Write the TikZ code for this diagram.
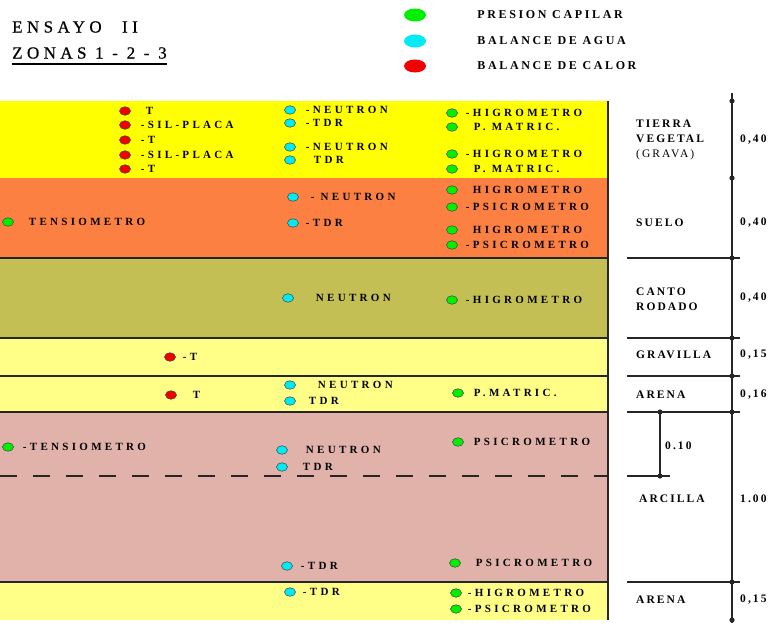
\documentclass[tikz,border=0pt]{standalone}
\usepackage{fontspec}
\setmainfont{Liberation Serif}
\newfontfamily\lblfont{Liberation Serif}[LetterSpace=30]
\newfontfamily\colfont{Liberation Serif}[LetterSpace=18]
\newfontfamily\legfont{Liberation Serif}[LetterSpace=22]
\newfontfamily\ttlfont{Liberation Serif}[LetterSpace=26, FakeBold=0.6]
\usetikzlibrary{shapes.geometric, positioning}

\definecolor{tierra}{RGB}{255,255,0}
\definecolor{suelo}{RGB}{252,128,66}
\definecolor{canto}{RGB}{196,191,84}
\definecolor{arena}{RGB}{255,255,136}
\definecolor{arcilla}{RGB}{224,178,170}
\definecolor{mkgreen}{RGB}{0,240,0}
\definecolor{mkcyan}{RGB}{0,235,245}
\definecolor{mkred}{RGB}{240,0,0}

\begin{document}
\begin{tikzpicture}[
    x=1pt, y=-1pt,
    sep/.style={line width=1.2pt, color=black!85},
    scaleline/.style={line width=1.1pt, color=black!85},
    mk/.style={ellipse, draw=black!75, line width=0.5pt, fill=#1,
               minimum width=11pt, minimum height=8.5pt, inner sep=0pt},
    gdot/.style={mk=mkgreen},
    cdot/.style={mk=mkcyan},
    rdot/.style={mk=mkred},
    lab/.style={font=\lblfont\bfseries\fontsize{11}{11}\selectfont,
                inner sep=0pt, xshift=10pt},
    colname/.style={font=\colfont\bfseries\fontsize{11.5}{15}\selectfont,
                    anchor=west, align=left, inner sep=0pt},
    legdot/.style={ellipse, fill=#1, minimum width=22pt, minimum height=13pt,
                   inner sep=0pt},
    legtext/.style={font=\legfont\bfseries\fontsize{12}{12}\selectfont,
                    inner sep=0pt, xshift=51pt},
    ttl/.style={font=\ttlfont\fontsize{17}{17}\selectfont, anchor=west, inner sep=0pt},
  ]
  \useasboundingbox (0,0) rectangle (775,626);

  % --- title and legend ---
  \node[ttl] (t1) at (12,27) {ENSAYO\hspace{1.2em}II};
  \node[ttl] (t2) at (12,53) {ZONAS 1 - 2 - 3};
  \draw[line width=1.2pt] ([yshift=-5pt]t2.south west) -- ([yshift=-5pt]t2.south east);

  \node[legdot=mkgreen, label={[legtext]right:PRESION CAPILAR}] (lg1) at (415,15) {};
  \node[legdot=mkcyan, label={[legtext]right:BALANCE DE AGUA}] (lg2) at (415,41) {};
  \node[legdot=mkred, label={[legtext]right:BALANCE DE CALOR}] (lg3) at (415,66) {};

  % --- soil layers ---
  \fill[tierra] (0,101) rectangle (608,178);
  \fill[suelo] (0,178) rectangle (608,258);
  \fill[canto] (0,258) rectangle (608,338);
  \fill[arena] (0,338) rectangle (608,412);
  \fill[arcilla] (0,412) rectangle (608,582);
  \fill[arena] (0,582) rectangle (608,620);
  \foreach \y in {258,338,376,412,582}
    \draw[sep] (0,\y) -- (608,\y);
  \draw[sep] (608,101) -- (608,620);
  \draw[sep, dash pattern=on 17pt off 16pt] (0,476) -- (608,476);

  % --- tierra vegetal ---
  \node[rdot, label={[lab, xshift=5pt]right:T}] (r1) at (125,111) {};
  \node[rdot, label={[lab]right:-SIL-PLACA}] (r2) at (125,125) {};
  \node[rdot, label={[lab]right:-T}] (r3) at (125,140) {};
  \node[rdot, label={[lab]right:-SIL-PLACA}] (r4) at (125,155) {};
  \node[rdot, label={[lab]right:-T}] (r5) at (125,169) {};
  \node[cdot, label={[lab]right:-NEUTRON}] (c1) at (290,110) {};
  \node[cdot, label={[lab]right:-TDR}] (c2) at (290,123) {};
  \node[cdot, label={[lab]right:-NEUTRON}] (c3) at (290,147) {};
  \node[cdot, label={[lab, xshift=8pt]right:TDR}] (c4) at (290,160) {};
  \node[gdot, label={[lab, xshift=-2pt]right:-HIGROMETRO}] (g1) at (452,113) {};
  \node[gdot, label={[lab, xshift=6pt]right:P. MATRIC.}] (g2) at (452,127) {};
  \node[gdot, label={[lab, xshift=-2pt]right:-HIGROMETRO}] (g3) at (452,154) {};
  \node[gdot, label={[lab, xshift=6pt]right:P. MATRIC.}] (g4) at (452,169) {};

  % --- suelo ---
  \node[gdot, label={[lab, xshift=5pt]right:TENSIOMETRO}] (g5) at (8,222) {};
  \node[cdot, label={[lab, xshift=2pt]right:- NEUTRON}] (c5) at (293,197) {};
  \node[cdot, label={[lab, xshift=-3pt]right:-TDR}] (c6) at (293,223) {};
  \node[gdot, label={[lab, xshift=5pt]right:HIGROMETRO}] (g6) at (452,190) {};
  \node[gdot, label={[lab, xshift=-2pt]right:-PSICROMETRO}] (g7) at (452,207) {};
  \node[gdot, label={[lab, xshift=5pt]right:HIGROMETRO}] (g8) at (452,230) {};
  \node[gdot, label={[lab, xshift=-2pt]right:-PSICROMETRO}] (g9) at (452,245) {};

  % --- canto rodado, gravilla, arena ---
  \node[cdot, label={[lab, xshift=12pt]right:NEUTRON}] (c7) at (288,298) {};
  \node[gdot, label={[lab, xshift=-2pt]right:-HIGROMETRO}] (g10) at (452,300) {};
  \node[rdot, label={[lab, xshift=-3pt]right:-T}] (r6) at (170,357) {};
  \node[rdot, label={[lab, xshift=6pt]right:T}] (r7) at (171,395) {};
  \node[cdot, label={[lab, xshift=12pt]right:NEUTRON}] (c8) at (290,385) {};
  \node[cdot, label={[lab, xshift=3pt]right:TDR}] (c9) at (290,401) {};
  \node[gdot, label={[lab]right:P.MATRIC.}] (g11) at (458,393) {};

  % --- arcilla ---
  \node[gdot, label={[lab, xshift=-1pt]right:-TENSIOMETRO}] (g12) at (8,447) {};
  \node[cdot, label={[lab, xshift=8pt]right:NEUTRON}] (c10) at (282,450) {};
  \node[cdot, label={[lab, xshift=5pt]right:TDR}] (c11) at (282,467) {};
  \node[gdot, label={[lab]right:PSICROMETRO}] (g13) at (458,442) {};
  \node[cdot, label={[lab, xshift=-2pt]right:-TDR}] (c12) at (287,566) {};
  \node[gdot, label={[lab, xshift=5pt]right:PSICROMETRO}] (g14) at (455,563) {};

  % --- arena (fondo) ---
  \node[cdot, label={[lab, xshift=-3pt]right:-TDR}] (c13) at (290,592) {};
  \node[gdot, label={[lab, xshift=-4pt]right:-HIGROMETRO}] (g15) at (456,593) {};
  \node[gdot, label={[lab, xshift=-4pt]right:-PSICROMETRO}] (g16) at (456,609) {};

  % --- depth scale ---
  \coordinate (top) at (732,93);
  \coordinate (bot) at (732,623);
  \draw[scaleline] (top) -- (bot);
  \foreach \y in {258,338,376,412,582}
    \draw[scaleline] (627,\y) -- (740,\y);
  \coordinate (d1) at (660,412);
  \coordinate (d2) at (660,476);
  \draw[scaleline] (627,476) -- (670,476);
  \draw[scaleline] (d1) -- (d2);
  \foreach \y in {101,178,258,338,376,412,582,620}
    \fill[black!85] (732,\y) circle (2.6pt);
  \fill[black!85] (d1) circle (2.6pt);
  \fill[black!85] (d2) circle (2.6pt);

  \node[colname] (n1) at (636,140) {TIERRA\\VEGETAL\\{\mdseries (GRAVA)}};
  \node[colname] (n2) at (636,223) {SUELO};
  \node[colname] (n3) at (636,299) {CANTO\\RODADO};
  \node[colname] (n4) at (636,355) {GRAVILLA};
  \node[colname] (n5) at (636,395) {ARENA};
  \node[colname] (n6) at (639,499) {ARCILLA};
  \node[colname] (n7) at (636,600) {ARENA};

  \node[colname] (v1) at (740,140) {0,40};
  \node[colname] (v2) at (740,223) {0,40};
  \node[colname] (v3) at (740,298) {0,40};
  \node[colname] (v4) at (740,355) {0,15};
  \node[colname] (v5) at (740,395) {0,16};
  \node[colname] (v6) at (740,499) {1.00};
  \node[colname] (v7) at (740,600) {0,15};
  \node[colname] (v8) at (665,446) {0.10};
\end{tikzpicture}
\end{document}
